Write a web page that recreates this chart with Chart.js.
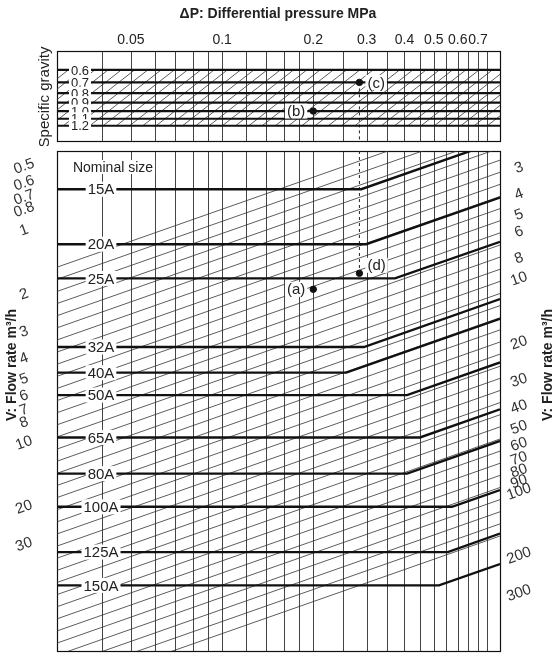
<!DOCTYPE html>
<html><head><meta charset="utf-8">
<script src="https://cdn.jsdelivr.net/npm/chart.js@4.4.0/dist/chart.umd.min.js"></script>
<style>
body{margin:0;background:#fff;width:559px;height:656px;overflow:hidden;position:relative;font-family:"Liberation Sans",Arial,sans-serif}
#t{position:absolute;left:0;top:0;width:559px;height:146px}
#b{position:absolute;left:0;top:146px;width:559px;height:510px}
</style></head><body>
<div id="t"><canvas id="ct"></canvas></div>
<div id="b"><canvas id="cb"></canvas></div>
<script>
// ---- data ----
const dpMin = 0.0285, dpMax = 0.827;
const dpGrid = [0.04,0.05,0.06,0.07,0.08,0.09,0.1,0.12,0.14,0.16,0.18,0.2,0.25,0.3,0.35,0.4,0.45,0.5,0.55,0.6,0.65,0.7,0.75];
const dpLabels = [0.05,0.1,0.2,0.3,0.4,0.5,0.6,0.7];
const sgValues = [0.6,0.7,0.8,0.9,1.0,1.1,1.2];
const sizes = ["15A","20A","25A","32A","40A","50A","65A","80A","100A","125A","150A"];
const nominalFlow = [0.64,1.16,1.68,3.53,4.66,5.94,9.4,13.9,19.9,32.5,46.6];
const breakDP = [0.288,0.299,0.372,0.294,0.257,0.408,0.45,0.408,0.574,0.556,0.52];
const endFlow = [0.378,0.70,1.13,2.10,2.60,4.17,6.93,9.76,16.6,26.6,37.0];
const leftTicks = [0.5,0.6,0.7,0.8,1,2,3,4,5,6,7,8,10,20,30];
const rightTicks = [3,4,5,6,8,10,20,30,40,50,60,70,80,90,100,200,300];
const ptC = {x:0.284, y:0.7}, ptB = {x:0.2, y:1.0};
const ptD = {x:0.284, y:1.59}, ptA = {x:0.2, y:1.89};

const FONT = '"Liberation Sans",Arial,sans-serif';
const INK = '#222';
function labelBox(ctx, text, x, y, align, size){
  ctx.font = size+'px '+FONT;
  const w = ctx.measureText(text).width;
  let x0 = align==='left'? x : align==='right'? x-w : x-w/2;
  ctx.fillStyle='#fff'; ctx.fillRect(x0-2, y-size/2, w+4, size);
  ctx.fillStyle=INK; ctx.textAlign='left'; ctx.textBaseline='middle';
  ctx.fillText(text, x0, y+1);
}
function vgrid(chart){
  const ctx=chart.ctx, a=chart.chartArea, xs=chart.scales.x;
  ctx.save(); ctx.strokeStyle='#444'; ctx.lineWidth=1;
  dpGrid.forEach(v=>{const x=Math.round(xs.getPixelForValue(v))+0.5;
    ctx.beginPath(); ctx.moveTo(x,a.top); ctx.lineTo(x,a.bottom); ctx.stroke();});
  ctx.strokeStyle='#111'; ctx.lineWidth=1.2; ctx.strokeRect(a.left+0.5,a.top+0.5,a.right-a.left,a.bottom-a.top);
  ctx.restore();
}
function baseOpts(yScales){
  return {responsive:true,maintainAspectRatio:false,animation:false,
    plugins:{legend:{display:false},tooltip:{enabled:false}},
    scales:Object.assign({x:{type:'logarithmic',min:dpMin,max:dpMax,display:false}},yScales)};
}
// ---- top chart (specific gravity) ----
const topPlugin = {id:'tp',
  beforeDatasetsDraw(chart){
    const ctx=chart.ctx,a=chart.chartArea,xs=chart.scales.x,ys=chart.scales.y;
    vgrid(chart);
    ctx.save();
    ctx.beginPath(); ctx.rect(a.left,a.top,a.right-a.left,a.bottom-a.top); ctx.clip();
    ctx.strokeStyle='#333'; ctx.lineWidth=0.8;
    const k=1.28, s0=0.6, s1=1.2;
    for(let lc=-2.6;lc<0.3;lc+=0.056){ // SG = c * dp^-k
      const c=Math.pow(10,lc);
      const p0=Math.pow(s1/c,-1/k), p1=Math.pow(s0/c,-1/k);
      ctx.beginPath();
      ctx.moveTo(xs.getPixelForValue(p0), ys.getPixelForValue(s1));
      ctx.lineTo(xs.getPixelForValue(p1), ys.getPixelForValue(s0));
      ctx.stroke();
    }
    ctx.restore();
    ctx.save(); ctx.setLineDash([3,3]); ctx.strokeStyle='#222'; ctx.lineWidth=1;
    const dx=xs.getPixelForValue(ptC.x);
    ctx.beginPath(); ctx.moveTo(dx,ys.getPixelForValue(ptC.y)); ctx.lineTo(dx,a.bottom); ctx.stroke(); ctx.restore();
  },
  afterDatasetsDraw(chart){
    const ctx=chart.ctx,a=chart.chartArea,xs=chart.scales.x,ys=chart.scales.y;
    ctx.save();
    sgValues.forEach(v=>labelBox(ctx, v.toFixed(1), 80, ys.getPixelForValue(v), 'center', 13));
    labelBox(ctx,'(c)',xs.getPixelForValue(ptC.x)+8,ys.getPixelForValue(ptC.y),'left',15);
    labelBox(ctx,'(b)',xs.getPixelForValue(ptB.x)-8,ys.getPixelForValue(ptB.y),'right',15);
    ctx.fillStyle=INK; ctx.textAlign='center'; ctx.textBaseline='middle';
    ctx.font='14px '+FONT;
    dpLabels.forEach(v=>ctx.fillText(String(v), xs.getPixelForValue(v), 40));
    ctx.font='bold 14px '+FONT; ctx.fillText('ΔP: Differential pressure MPa', 278, 14);
    ctx.save(); ctx.translate(45, 97); ctx.rotate(-Math.PI/2); ctx.font='15px '+FONT; ctx.fillText('Specific gravity',0,0); ctx.restore();
    ctx.restore();
  }};
new Chart(document.getElementById('ct'),{type:'scatter',
  data:{datasets:[
    ...sgValues.map(v=>({data:[{x:dpMin,y:v},{x:dpMax,y:v}],showLine:true,borderColor:'#111',borderWidth:2.2,pointRadius:0})),
    {data:[ptC,ptB],pointRadius:3.2,backgroundColor:'#111',borderColor:'#111'}
  ]},
  options:Object.assign(baseOpts({y:{type:'logarithmic',min:0.474,max:1.45,reverse:true,display:false}}),{layout:{padding:{left:57,right:59,top:51,bottom:0}}}),
  plugins:[topPlugin]});
// ---- bottom chart (flow) ----
const botPlugin = {id:'bp',
  beforeDatasetsDraw(chart){
    const ctx=chart.ctx,a=chart.chartArea,xs=chart.scales.x,ys=chart.scales.y;
    vgrid(chart);
    ctx.save(); ctx.beginPath(); ctx.rect(a.left,a.top,a.right-a.left,a.bottom-a.top); ctx.clip();
    ctx.strokeStyle='#333'; ctx.lineWidth=0.8;
    for(let lc=-0.6;lc<1.4;lc+=0.057){ // V = c * dp^-0.5
      ctx.beginPath();
      [dpMin,dpMax].forEach((p,i)=>{const v=Math.pow(10,lc)/Math.sqrt(p);
        const X=xs.getPixelForValue(p),Y=ys.getPixelForValue(v); i?ctx.lineTo(X,Y):ctx.moveTo(X,Y);});
      ctx.stroke();
    }
    ctx.setLineDash([3,3]); ctx.strokeStyle='#222'; ctx.lineWidth=1;
    const dx=xs.getPixelForValue(ptD.x);
    ctx.beginPath(); ctx.moveTo(dx,a.top); ctx.lineTo(dx,ys.getPixelForValue(ptD.y)); ctx.stroke();
    ctx.restore();
  },
  afterDatasetsDraw(chart){
    const ctx=chart.ctx,a=chart.chartArea,xs=chart.scales.x,ys=chart.scales.y,y2=chart.scales.y2;
    ctx.save();
    sizes.forEach((s,i)=>labelBox(ctx,s,101,ys.getPixelForValue(nominalFlow[i]),'center',15));
    labelBox(ctx,'Nominal size',113,21,'center',14);
    labelBox(ctx,'(d)',xs.getPixelForValue(ptD.x)+8,ys.getPixelForValue(ptD.y)-8,'left',15);
    labelBox(ctx,'(a)',xs.getPixelForValue(ptA.x)-8,ys.getPixelForValue(ptA.y),'right',15);
    ctx.fillStyle='#333'; ctx.font='15px '+FONT; ctx.textAlign='center'; ctx.textBaseline='middle';
    const rot=-0.35;
    leftTicks.forEach(v=>{ctx.save();ctx.translate(24,ys.getPixelForValue(v));ctx.rotate(rot);ctx.fillText(String(v),0,0);ctx.restore();});
    rightTicks.forEach(v=>{ctx.save();ctx.translate(519,y2.getPixelForValue(v));ctx.rotate(rot);ctx.fillText(String(v),0,0);ctx.restore();});
    ctx.fillStyle=INK; ctx.font='bold 14px '+FONT;
    [[12,219],[548,219]].forEach(([x,y])=>{ctx.save();ctx.translate(x,y);ctx.rotate(-Math.PI/2);
      ctx.fillText('V: Flow rate m\u00B3/h',0,0);ctx.restore();});
    ctx.restore();
  }};
new Chart(document.getElementById('cb'),{type:'scatter',
  data:{datasets:[
    ...sizes.map((s,i)=>({label:s,data:[{x:dpMin,y:nominalFlow[i]},{x:breakDP[i],y:nominalFlow[i]},{x:dpMax,y:endFlow[i]}],
      showLine:true,borderColor:'#111',borderWidth:2.4,pointRadius:0})),
    {data:[ptD,ptA],pointRadius:3.2,backgroundColor:'#111',borderColor:'#111'}
  ]},
  options:Object.assign(baseOpts({
    y:{type:'logarithmic',min:0.423,max:94.8,reverse:true,display:false},
    y2:{type:'logarithmic',min:2.50,max:561,reverse:true,display:false,position:'right'}}),
    {layout:{padding:{left:57,right:59,top:0,bottom:0}}}),
  plugins:[botPlugin]});
</script></body></html>
